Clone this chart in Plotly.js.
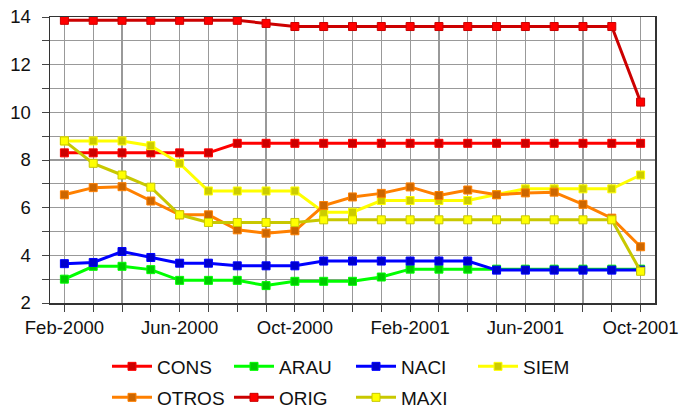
<!DOCTYPE html>
<html>
<head>
<meta charset="utf-8">
<script src="https://cdn.plot.ly/plotly-3.0.1.min.js"></script>
<style>html,body{margin:0;padding:0;background:#fff;}#chart{width:694px;height:408px;}</style>
</head>
<body>
<div id="chart"></div>
<script>
const months = ['Feb-2000','Mar-2000','Apr-2000','May-2000','Jun-2000','Jul-2000','Aug-2000','Sep-2000','Oct-2000','Nov-2000','Dec-2000','Jan-2001','Feb-2001','Mar-2001','Apr-2001','May-2001','Jun-2001','Jul-2001','Aug-2001','Sep-2001','Oct-2001'];
const labelledMonths = ['Feb-2000','Jun-2000','Oct-2000','Feb-2001','Jun-2001','Oct-2001'];

const CONS  = [8.3,8.3,8.3,8.3,8.3,8.3,8.7,8.7,8.7,8.7,8.7,8.7,8.7,8.7,8.7,8.7,8.7,8.7,8.7,8.7,8.7];
const ARAU  = [3.0,3.54,3.54,3.40,2.95,2.95,2.95,2.73,2.91,2.91,2.91,3.09,3.42,3.42,3.42,3.42,3.42,3.42,3.42,3.42,3.42];
const NACI  = [3.65,3.70,4.16,3.91,3.67,3.67,3.56,3.56,3.56,3.76,3.76,3.76,3.76,3.76,3.76,3.38,3.38,3.38,3.38,3.38,3.38];
const SIEM  = [8.8,8.8,8.8,8.6,7.86,6.7,6.7,6.7,6.7,5.81,5.81,6.3,6.3,6.3,6.3,6.55,6.79,6.79,6.79,6.79,7.37];
const OTROS = [6.54,6.84,6.88,6.28,5.70,5.70,5.07,4.93,5.03,6.09,6.45,6.60,6.87,6.51,6.74,6.54,6.62,6.65,6.14,5.56,4.36];
const ORIG  = [13.86,13.86,13.86,13.86,13.86,13.86,13.86,13.73,13.6,13.6,13.6,13.6,13.6,13.6,13.6,13.6,13.6,13.6,13.6,13.6,10.43];
const MAXI  = [8.8,7.86,7.37,6.86,5.70,5.38,5.38,5.38,5.38,5.49,5.49,5.49,5.49,5.49,5.49,5.49,5.49,5.49,5.49,5.49,3.33];

const seriesNames = ['CONS','ARAU','NACI','SIEM','OTROS','ORIG','MAXI'];
const seriesData = [CONS, ARAU, NACI, SIEM, OTROS, ORIG, MAXI];
const lineColors = ['#FF0000','#00FF00','#0000FF','#FFFF00','#FF8000','#CC0000','#C8C800'];
const markerColors = ['#CC0000','#00CC00','#0000CC','#CCCC00','#CC6600','#FF0000','#FFFF00'];
const legendIds = ['legend','legend','legend','legend','legend2','legend2','legend2'];

const traces = seriesNames.map((name, i) => ({
  x: months,
  y: seriesData[i],
  name: name,
  type: 'scatter',
  mode: 'lines+markers',
  line: {color: lineColors[i], width: 3},
  marker: {symbol: 'square', size: 8, color: markerColors[i], line: {color: lineColors[i], width: 1}},
  legend: legendIds[i]
}));

const axisFont = {family: 'Liberation Sans, Arial, sans-serif', size: 18.5, color: '#111'};
const legendFont = {family: 'Liberation Sans, Arial, sans-serif', size: 19, color: '#111'};
const legendCommon = {
  orientation: 'h', xanchor: 'left', yanchor: 'middle', xref: 'container', yref: 'container',
  font: legendFont, entrywidth: 67, entrywidthmode: 'pixels',
  itemwidth: 40, bgcolor: 'rgba(0,0,0,0)', borderwidth: 0, traceorder: 'normal'
};

const layout = {
  width: 694, height: 408,
  margin: {l: 50, r: 39, t: 17, b: 105},
  paper_bgcolor: '#fff', plot_bgcolor: '#fff',
  font: axisFont,
  showlegend: true,
  xaxis: {
    type: 'category',
    range: [-0.5, 20.5],
    tickmode: 'array',
    tickvals: months,
    ticktext: months.map(m => labelledMonths.includes(m) ? m : ''),
    ticks: 'outside', ticklen: 7, tickcolor: '#444', tickwidth: 1,
    tickfont: axisFont,
    showgrid: true, gridcolor: '#999', gridwidth: 1.2,
    showline: true, linecolor: '#333', linewidth: 1.5, mirror: true,
    zeroline: false, fixedrange: true, automargin: false
  },
  yaxis: {
    range: [2, 14],
    tickmode: 'linear', tick0: 2, dtick: 2,
    ticks: 'outside', ticklen: 7, tickcolor: '#444', tickwidth: 1,
    ticklabelstandoff: 7,
    tickfont: axisFont,
    showgrid: true, gridcolor: '#999', gridwidth: 1.2,
    minor: {dtick: 1, showgrid: true, gridcolor: '#999', gridwidth: 1.2, ticks: 'outside', ticklen: 7, tickcolor: '#444'},
    showline: true, linecolor: '#333', linewidth: 1.5, mirror: true,
    zeroline: false, fixedrange: true, automargin: false
  },
  legend: Object.assign({}, legendCommon, {x: 107/694, y: (408-366.5)/408}),
  legend2: Object.assign({}, legendCommon, {x: 107/694, y: (408-397.5)/408})
};

Plotly.newPlot('chart', traces, layout, {displayModeBar: false, staticPlot: true});
</script>
</body>
</html>
